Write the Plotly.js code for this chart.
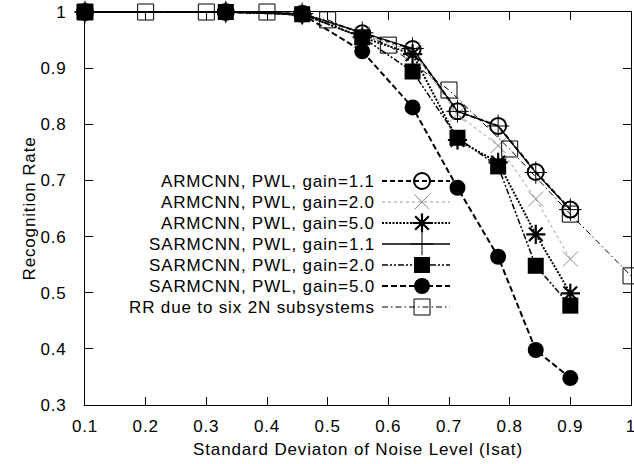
<!DOCTYPE html>
<html>
<head>
<meta charset="utf-8">
<script src="https://cdn.plot.ly/plotly-3.0.1.min.js"></script>
<style>
  html, body { margin: 0; padding: 0; background: #fff; }
  text { letter-spacing: 0.85px; }
</style>
</head>
<body>
<div id="chart" style="width:634px;height:464px;"></div>
<script>
// ---- data ----
const xNoise = [0.1, 0.332, 0.458, 0.557, 0.640, 0.714, 0.781, 0.843, 0.9];
const armG11 = [1, 1, 0.997, 0.962, 0.934, 0.823, 0.797, 0.715, 0.648];
const armG20 = [1, 1, 0.997, 0.960, 0.930, 0.818, 0.762, 0.667, 0.560];
const armG50 = [1, 1, 0.996, 0.955, 0.925, 0.772, 0.732, 0.604, 0.499];
const sarG11 = [1, 1, 0.997, 0.963, 0.935, 0.823, 0.797, 0.714, 0.648];
const sarG20 = [1, 1, 0.996, 0.955, 0.894, 0.776, 0.725, 0.548, 0.477];
const sarG50 = [1, 1, 0.996, 0.930, 0.830, 0.687, 0.564, 0.398, 0.348];
const xRR = [0.1, 0.2, 0.3, 0.4, 0.5, 0.6, 0.7, 0.8, 0.9, 1.0];
const rrSix = [1, 1, 1, 1, 0.986, 0.941, 0.861, 0.756, 0.640, 0.530];

const seriesNames = [
  "ARMCNN, PWL, gain=1.1",
  "ARMCNN, PWL, gain=2.0",
  "ARMCNN, PWL, gain=5.0",
  "SARMCNN, PWL, gain=1.1",
  "SARMCNN, PWL, gain=2.0",
  "SARMCNN, PWL, gain=5.0",
  "RR due to six 2N subsystems"
];
const xTickVals = [0.1, 0.2, 0.3, 0.4, 0.5, 0.6, 0.7, 0.8, 0.9, 1.0];
const xTickText = ["0.1", "0.2", "0.3", "0.4", "0.5", "0.6", "0.7", "0.8", "0.9", "1"];
const yTickVals = [0.3, 0.4, 0.5, 0.6, 0.7, 0.8, 0.9, 1.0];
const yTickText = ["0.3", "0.4", "0.5", "0.6", "0.7", "0.8", "0.9", "1"];

// ---- styles ----
const styles = [
  {line: {color: "#000", width: 2, dash: "5px,3px"}, marker: {symbol: "circle-open", size: 16, color: "#000", line: {color: "#000", width: 2}}},
  {line: {color: "#9a9a9a", width: 1, dash: "3px,3px"}, marker: {symbol: "x-thin-open", size: 15, color: "#8a8a8a", line: {color: "#8a8a8a", width: 1}}},
  {line: {color: "#000", width: 2, dash: "2px,1.5px"}, marker: {symbol: "asterisk-open", size: 16, color: "#000", line: {color: "#000", width: 2.2}}},
  {line: {color: "#000", width: 1.3}, marker: {symbol: "cross-thin-open", size: 16, color: "#000", line: {color: "#000", width: 1}}},
  {line: {color: "#000", width: 1.5, dash: "6px,2px,2px,2px,2px,2px"}, marker: {symbol: "square", size: 16, color: "#000", line: {width: 0}}},
  {line: {color: "#000", width: 2, dash: "6px,3px"}, marker: {symbol: "circle", size: 16, color: "#000", line: {width: 0}}},
  {line: {color: "#000", width: 1, dash: "6px,3px,1.5px,3px"}, marker: {symbol: "square-open", size: 16, color: "#000", line: {color: "#000", width: 1}}}
];
const seriesX = [xNoise, xNoise, xNoise, xNoise, xNoise, xNoise, xRR];
const seriesY = [armG11, armG20, armG50, sarG11, sarG20, sarG50, rrSix];

const traces = [];
for (let i = 0; i < seriesNames.length; i++) {
  traces.push({
    type: "scatter", mode: "lines+markers", name: seriesNames[i],
    x: seriesX[i], y: seriesY[i],
    line: styles[i].line, marker: styles[i].marker,
    cliponaxis: false, showlegend: false, hoverinfo: "skip"
  });
}

// ---- custom legend (text left of the sample, as in the reference) ----
// overlay axes measured in plot-area pixels
const plotW = 546, plotH = 393;
const legTop = 169, legRowH = 21, legTextRight = 292;
const legLineStart = 297, legMarkX = 337, legLineEnd = 365;
const annotations = [];
for (let i = 0; i < seriesNames.length; i++) {
  const ry = legTop + i * legRowH;
  traces.push({
    type: "scatter", mode: "lines+markers", xaxis: "x2", yaxis: "y2",
    x: [legLineStart, legMarkX, legLineEnd], y: [ry, ry, ry],
    line: styles[i].line,
    marker: Object.assign({}, styles[i].marker, {opacity: [0, 1, 0]}),
    showlegend: false, hoverinfo: "skip", cliponaxis: false
  });
  annotations.push({
    xref: "x2", yref: "y2", x: legTextRight, y: ry, text: seriesNames[i],
    xanchor: "right", yanchor: "middle", showarrow: false,
    font: {family: "Liberation Sans, Arial, sans-serif", size: 17, color: "#000"}
  });
}

const font = {family: "Liberation Sans, Arial, sans-serif", size: 17, color: "#000"};
const layout = {
  width: 634, height: 464,
  margin: {l: 85, r: 3, t: 12, b: 59},
  paper_bgcolor: "#fff", plot_bgcolor: "#fff",
  font: font,
  showlegend: false,
  xaxis: {
    range: [0.1, 1.0], tickvals: xTickVals, ticktext: xTickText,
    ticks: "inside", ticklen: 8, tickwidth: 1, tickcolor: "#000",
    showline: true, linecolor: "#000", linewidth: 1, mirror: "allticks",
    showgrid: false, zeroline: false, ticklabelstandoff: 6,
    ticklabeloverflow: "allow",
    title: {text: "Standard Deviaton of Noise Level (Isat)", font: font, standoff: 7},
    automargin: false
  },
  yaxis: {
    range: [0.3, 1.0], tickvals: yTickVals, ticktext: yTickText,
    ticks: "inside", ticklen: 8, tickwidth: 1, tickcolor: "#000",
    showline: true, linecolor: "#000", linewidth: 1, mirror: "allticks",
    showgrid: false, zeroline: false, ticklabelstandoff: 14,
    ticklabeloverflow: "allow",
    title: {text: "Recognition Rate", font: font, standoff: 0},
    automargin: false
  },
  xaxis2: {overlaying: "x", anchor: "y2", range: [0, plotW], visible: false, fixedrange: true},
  yaxis2: {overlaying: "y", anchor: "x2", range: [plotH, 0], visible: false, fixedrange: true},
  annotations: annotations
};

Plotly.newPlot("chart", traces, layout, {staticPlot: true, displayModeBar: false});
</script>
</body>
</html>
